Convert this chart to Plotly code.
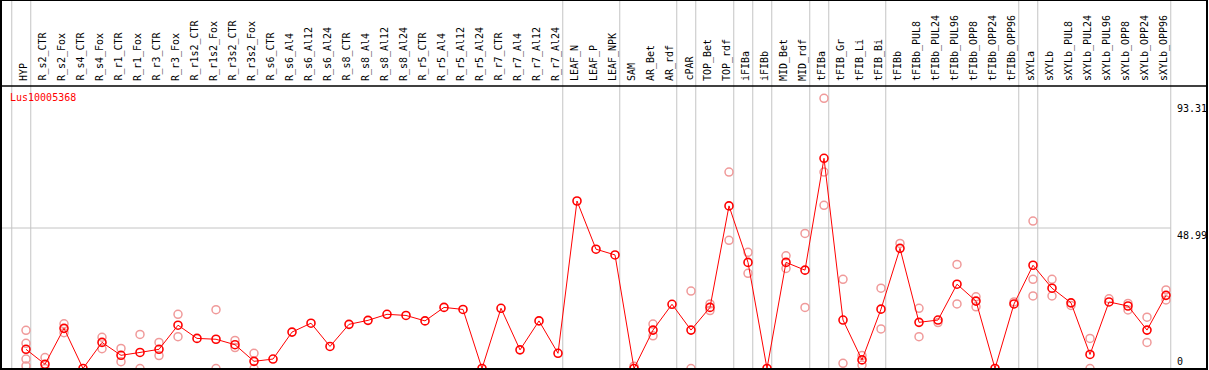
import plotly.graph_objects as go

categories = ["HYP", "R_s2_CTR", "R_s2_Fox", "R_s4_CTR", "R_s4_Fox", "R_r1_CTR", "R_r1_Fox",
              "R_r3_CTR", "R_r3_Fox", "R_r1s2_CTR", "R_r1s2_Fox", "R_r3s2_CTR", "R_r3s2_Fox",
              "R_s6_CTR", "R_s6_Al4", "R_s6_Al12", "R_s6_Al24", "R_s8_CTR", "R_s8_Al4", "R_s8_Al12",
              "R_s8_Al24", "R_r5_CTR", "R_r5_Al4", "R_r5_Al12", "R_r5_Al24", "R_r7_CTR", "R_r7_Al4",
              "R_r7_Al12", "R_r7_Al24", "LEAF_N", "LEAF_P", "LEAF_NPK", "SAM", "AR_Bet", "AR_rdf",
              "cPAR", "TOP_Bet", "TOP_rdf", "iFIBa", "iFIBb", "MID_Bet", "MID_rdf", "tFIBa",
              "tFIB_Gr", "tFIB_Li", "tFIB_Bi", "tFIBb", "tFIBb_PUL8", "tFIBb_PUL24", "tFIBb_PUL96",
              "tFIBb_OPP8", "tFIBb_OPP24", "tFIBb_OPP96", "sXYLa", "sXYLb", "sXYLb_PUL8",
              "sXYLb_PUL24", "sXYLb_PUL96", "sXYLb_OPP8", "sXYLb_OPP24", "sXYLb_OPP96"]

mean_values = [6.7, 1.5, 14.0, 0, 9.1, 4.6, 5.6, 6.7, 15.1, 10.5, 10.2, 8.3, 2.5,
               3.3, 12.7, 15.8, 7.7, 15.4, 16.8, 18.9, 18.5, 16.6, 21.3, 20.6, 0, 21.0, 6.5,
               16.6, 5.3, 58.4, 41.6, 39.6, 0, 13.4, 22.4, 13.4, 21.3, 56.7, 37.0, 0, 37.0, 34.3,
               73.3, 16.9, 3.0, 20.7, 41.9, 16.1, 16.9, 29.4, 23.5, 0, 22.5, 36.0, 28.0, 22.9,
               4.9, 23.2, 21.8, 13.4, 25.5]

N = None
rep_a = [13.3, 3.8, 15.6, N, 10.9, 7.0, 11.9, 9.1, 18.9, N, 20.5, 9.8, 5.3,
         N, N, N, N, N, N, N, N, N, N, N, N, N, N, N, N, N, N, N,
         0.8, 15.5, N, 27.0, 22.5, 68.5, 40.5, N, 39.3, 47.1, 94.2, 31.1, 4.5, 28.0,
         43.6, 21.0, 16.0, 36.3, 25.0, N, 23.2, 51.4, 31.1, 22.0, 10.5, 24.3, 22.7, 17.9, 27.4]
rep_b = [8.8, 0, 12.5, N, 6.9, 2.4, 0, 4.5, 11.1, N, 0, 7.3, 0,
         N, N, N, N, N, N, N, N, N, N, N, N, N, N, N, N, N, N, N,
         N, 11.4, N, 0, 20.2, 44.7, 33.2, N, 34.9, 21.3, 68.5, 1.8, 1.2, 13.8,
         N, 11.1, N, 22.5, 21.5, N, N, 31.1, 25.3, N, 0, N, 20.4, 9.1, 23.9]
rep_c = [3.3, N, N, N, N, N, N, N, N, N, N, N, N,
         N, N, N, N, N, N, N, N, N, N, N, N, N, N, N, N, N, N, N,
         N, N, N, N, N, N, N, N, N, N, 56.9, N, N, N,
         N, N, N, N, N, N, N, 25.3, N, N, N, N, N, N, N]
rep_d = [0.9] + [N] * 60

tick_values = [0, 48.99, 93.31]
tick_labels = ["0", "48.99", "93.31"]
group_ends = [-1, 0, 28, 31, 34, 35, 37, 38, 39, 41, 42, 45, 52, 53, 60]
gene = "Lus10005368"

MONO = "DejaVu Sans Mono"
W, H = 1209, 370
TOP, BOT, LEFT, RIGHT = 86, 1, 1, 2
ph = H - TOP - BOT
pw = W - LEFT - RIGHT
hdr_top = 1 + TOP / ph
X0, X1 = -1.3158, 62.158

xs = list(range(len(categories)))
fig = go.Figure()
pink = "#F09A9A"
for reps in (rep_a, rep_b, rep_c, rep_d):
    fig.add_trace(go.Scatter(x=xs, y=reps, mode="markers",
                             marker=dict(symbol="circle-open", size=8, color=pink,
                                         line=dict(width=1.5, color=pink)),
                             hoverinfo="skip", showlegend=False))
fig.add_trace(go.Scatter(x=xs, y=mean_values, mode="lines+markers",
                         line=dict(color="#FF0000", width=1),
                         marker=dict(symbol="circle-open", size=8, color="#FF0000",
                                     line=dict(width=1.6, color="#FF0000")),
                         showlegend=False))

shapes = []
for g in group_ends:
    shapes.append(dict(type="line", xref="x", yref="paper", x0=g + 0.25, x1=g + 0.25,
                       y0=0, y1=hdr_top, line=dict(color="#C4C4C4", width=1), layer="below"))
shapes.append(dict(type="line", xref="paper", yref="y", x0=0, x1=(60.25 - X0) / (X1 - X0),
                   y0=48.99, y1=48.99, line=dict(color="#C4C4C4", width=1), layer="below"))
shapes.append(dict(type="line", xref="paper", yref="paper", x0=0, x1=1, y0=1, y1=1,
                   line=dict(color="black", width=1.5)))
shapes.append(dict(type="rect", xref="paper", yref="paper", x0=0, x1=1, y0=0, y1=hdr_top,
                   line=dict(color="black", width=2)))

annotations = []
lab_y = 1 + 3 / ph
for i, c in enumerate(categories):
    annotations.append(dict(x=i - 0.1, y=lab_y, xref="x", yref="paper", text=c, showarrow=False,
                            textangle=-90, xanchor="center", yanchor="bottom",
                            font=dict(family=MONO, size=10, color="black")))
for v, t in zip(tick_values, tick_labels):
    annotations.append(dict(x=(1175 - LEFT) / pw, y=v, xref="paper", yref="y", text=t,
                            showarrow=False, xanchor="left",
                            yanchor="bottom" if v == 0 else "top",
                            font=dict(family=MONO, size=10, color="black")))
annotations.append(dict(x=(8 - LEFT) / pw, y=1 - 11 / ph, xref="paper", yref="paper", text=gene,
                        showarrow=False, xanchor="left", yanchor="middle",
                        font=dict(family=MONO, size=10, color="#FF0000")))

fig.update_layout(
    width=W, height=H,
    margin=dict(l=LEFT, r=RIGHT, t=TOP, b=BOT),
    paper_bgcolor="white", plot_bgcolor="white",
    xaxis=dict(range=[X0, X1], showgrid=False, zeroline=False, showticklabels=False,
               fixedrange=True),
    yaxis=dict(range=[-0.17, 98.5], showgrid=False, zeroline=False, showticklabels=False,
               fixedrange=True),
    shapes=shapes, annotations=annotations,
)
fig.write_html("out.html", config={"displayModeBar": False},
               post_script="document.body.style.margin='0';document.body.style.padding='0';"
                           "document.body.style.overflow='hidden';")
